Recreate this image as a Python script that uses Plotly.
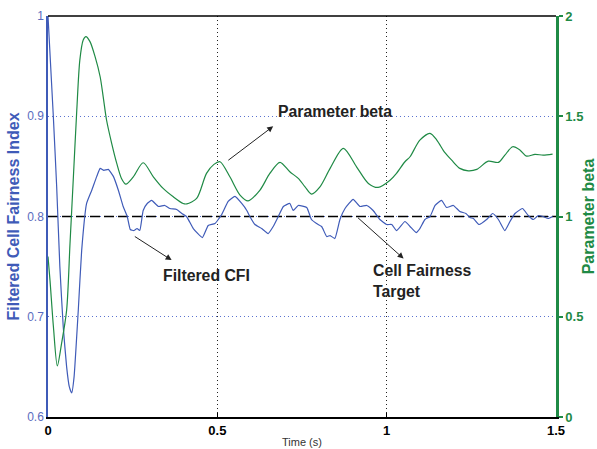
import plotly.graph_objects as go

# ---- data ----
t_cfi = [0, 0.0157, 0.0256, 0.035, 0.045, 0.055, 0.063, 0.07, 0.077, 0.0895, 0.0994, 0.114, 0.129,
         0.144, 0.154, 0.165, 0.178, 0.193, 0.208, 0.222, 0.234, 0.243, 0.254, 0.263, 0.271, 0.281,
         0.293, 0.306, 0.326, 0.345, 0.36, 0.38, 0.395, 0.409, 0.429, 0.456, 0.473, 0.493, 0.513,
         0.532, 0.552, 0.572, 0.587, 0.596, 0.611, 0.631, 0.650, 0.665, 0.680, 0.695, 0.714, 0.724,
         0.739, 0.764, 0.778, 0.793, 0.808, 0.823, 0.833, 0.847, 0.862, 0.877, 0.901, 0.921, 0.941,
         0.960, 0.980, 1.0, 1.015, 1.029, 1.054, 1.069, 1.087, 1.098, 1.113, 1.128, 1.143, 1.162,
         1.177, 1.197, 1.216, 1.234, 1.246, 1.256, 1.273, 1.295, 1.313, 1.330, 1.349, 1.364, 1.379,
         1.401, 1.418, 1.433, 1.448, 1.462, 1.477, 1.49]
cfi = [1.0, 0.9, 0.83, 0.75, 0.69, 0.65, 0.63, 0.624, 0.64, 0.707, 0.766, 0.813, 0.826,
       0.840, 0.848, 0.846, 0.847, 0.840, 0.826, 0.810, 0.800, 0.787, 0.786, 0.788, 0.786, 0.806,
       0.813, 0.816, 0.810, 0.811, 0.808, 0.807, 0.803, 0.800, 0.788, 0.779, 0.791, 0.793, 0.802,
       0.815, 0.820, 0.813, 0.806, 0.800, 0.792, 0.788, 0.783, 0.790, 0.800, 0.810, 0.813, 0.806,
       0.811, 0.809, 0.797, 0.793, 0.790, 0.780, 0.781, 0.778, 0.797, 0.808, 0.817, 0.810, 0.811,
       0.806, 0.797, 0.792, 0.792, 0.786, 0.795, 0.790, 0.784, 0.788, 0.797, 0.800, 0.811, 0.816,
       0.809, 0.811, 0.805, 0.803, 0.799, 0.798, 0.792, 0.797, 0.803, 0.797, 0.786, 0.795, 0.803,
       0.808, 0.801, 0.797, 0.801, 0.800, 0.798, 0.800]

t_beta = [0, 0.006, 0.016, 0.0275, 0.040, 0.055, 0.065, 0.075, 0.085, 0.094, 0.104, 0.112, 0.124,
          0.139, 0.154, 0.163, 0.173, 0.188, 0.203, 0.217, 0.230, 0.252, 0.281, 0.311, 0.340, 0.370,
          0.399, 0.41, 0.439, 0.468, 0.49, 0.508, 0.537, 0.567, 0.591, 0.626, 0.655, 0.685, 0.714,
          0.739, 0.759, 0.778, 0.803, 0.833, 0.872, 0.911, 0.946, 0.975, 1.010, 1.029, 1.054, 1.069,
          1.098, 1.128, 1.148, 1.172, 1.192, 1.216, 1.241, 1.266, 1.300, 1.330, 1.349, 1.372, 1.394,
          1.413, 1.438, 1.462, 1.49]
beta = [0.80, 0.68, 0.45, 0.255, 0.366, 0.533, 0.865, 1.198, 1.531, 1.78, 1.88, 1.897, 1.872,
        1.797, 1.697, 1.597, 1.48, 1.365, 1.265, 1.19, 1.161, 1.198, 1.268, 1.198, 1.14, 1.098,
        1.065, 1.063, 1.09, 1.215, 1.26, 1.273, 1.198, 1.107, 1.078, 1.132, 1.215, 1.27, 1.223,
        1.19, 1.148, 1.112, 1.148, 1.24, 1.34, 1.248, 1.165, 1.145, 1.181, 1.215, 1.273, 1.298,
        1.381, 1.415, 1.381, 1.318, 1.281, 1.24, 1.228, 1.235, 1.276, 1.27, 1.306, 1.348, 1.331,
        1.301, 1.31, 1.306, 1.311]

target_t = [0, 1.5]
target_cfi = [0.8, 0.8]

x_ticks = [0, 0.5, 1, 1.5]
x_ticklabels = ["0", "0.5", "1", "1.5"]
y_ticks = [0.6, 0.7, 0.8, 0.9, 1.0]
y_ticklabels = ["0.6", "0.7", "0.8", "0.9", "1"]
y2_ticks = [0, 0.5, 1, 1.5, 2]
y2_ticklabels = ["0", "0.5", "1", "1.5", "2"]

BLUE = "#3f5bb8"
BLUE_LABEL = "#5a6cc0"
GREEN = "#1f8a45"
FONT = "Liberation Sans"
ANN = 15.8

fig = go.Figure()
fig.add_trace(go.Scatter(x=target_t, y=target_cfi, mode="lines",
                         line=dict(color="black", width=1.3, dash="10px,4px"),
                         showlegend=False, hoverinfo="skip"))
fig.add_trace(go.Scatter(x=t_cfi, y=cfi, mode="lines",
                         line=dict(color=BLUE, width=1.2, shape="spline", smoothing=0.4),
                         showlegend=False))
fig.add_trace(go.Scatter(x=t_beta, y=beta, mode="lines", yaxis="y2",
                         line=dict(color=GREEN, width=1.2, shape="spline", smoothing=0.8),
                         showlegend=False))

fig.update_layout(
    width=597, height=449,
    margin=dict(l=48, r=41, t=16, b=32),
    plot_bgcolor="white", paper_bgcolor="white",
    font=dict(family=FONT),
    xaxis=dict(range=[0, 1.5], tickvals=x_ticks, ticktext=x_ticklabels, automargin=False,
               showline=True, linecolor="black", linewidth=2.2,
               ticks="inside", ticklen=4, tickcolor="black",
               tickfont=dict(size=13, color="black", weight="bold"),
               showgrid=True, gridcolor="#222222", griddash="1px,3px", gridwidth=1,
               zeroline=False,
               title=dict(text="Time (s)", font=dict(size=11, color="#333333"), standoff=2)),
    yaxis=dict(range=[0.6, 1.0], tickvals=y_ticks, ticktext=y_ticklabels, automargin=False,
               showline=True, linecolor=BLUE, linewidth=1.5,
               ticks="", tickfont=dict(size=12, color=BLUE_LABEL),
               showgrid=True, gridcolor="#5a72d0", griddash="1px,3px", gridwidth=1,
               zeroline=False,
               title=dict(text="Filtered Cell Fairness Index",
                          font=dict(size=16, color=BLUE, weight="bold"), standoff=4)),
    yaxis2=dict(range=[0, 2], tickvals=y2_ticks, ticktext=y2_ticklabels, automargin=False,
                overlaying="y", side="right",
                showline=True, linecolor=GREEN, linewidth=2.5,
                ticks="outside", ticklen=4, tickwidth=1.5, tickcolor=GREEN,
                tickfont=dict(size=13, color=GREEN, weight="bold"),
                showgrid=False, zeroline=False,
                title=dict(text="Parameter beta",
                           font=dict(size=16, color=GREEN, weight="bold"), standoff=6)),
    shapes=[dict(type="line", xref="paper", yref="paper", x0=0, x1=1, y0=1, y1=1,
                 line=dict(color="black", width=1.5))],
    annotations=[
        dict(x=0.665, y=0.890, ax=0.528, ay=0.855, xref="x", yref="y", axref="x", ayref="y",
             showarrow=True, arrowhead=2, arrowsize=1.2, arrowwidth=1, arrowcolor="#222222", text=""),
        dict(x=0.365, y=0.7565, ax=0.252, ay=0.781, xref="x", yref="y", axref="x", ayref="y",
             showarrow=True, arrowhead=2, arrowsize=1.2, arrowwidth=1, arrowcolor="#222222", text=""),
        dict(x=1.050, y=0.758, ax=0.911, ay=0.800, xref="x", yref="y", axref="x", ayref="y",
             showarrow=True, arrowhead=2, arrowsize=1.2, arrowwidth=1, arrowcolor="#222222", text=""),
        dict(x=0.847, y=0.9045, xref="x", yref="y", text="Parameter beta", showarrow=False,
             xanchor="center", yanchor="middle",
             font=dict(size=ANN, color="#222222", weight="bold")),
        dict(x=0.468, y=0.741, xref="x", yref="y", text="Filtered CFI", showarrow=False,
             xanchor="center", yanchor="middle",
             font=dict(size=ANN, color="#222222", weight="bold")),
        dict(x=0.954, y=0.7355, xref="x", yref="y", text="Cell Fairness<br>Target", showarrow=False,
             xanchor="left", yanchor="middle", align="left",
             font=dict(size=ANN, color="#222222", weight="bold")),
    ],
)

fig.write_html("out.html")
